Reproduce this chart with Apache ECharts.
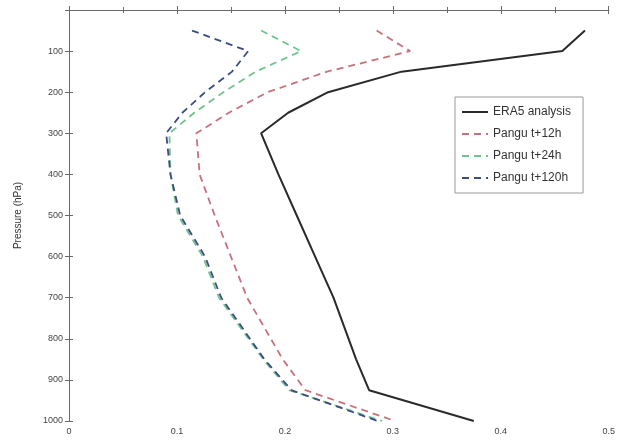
<!DOCTYPE html>
<html>
<head>
<meta charset="utf-8">
<script src="https://cdn.jsdelivr.net/npm/echarts@6/dist/echarts.min.js"></script>
<style>html,body{margin:0;padding:0;background:#fff;}#c{width:618px;height:446px;}</style>
</head>
<body>
<div id="c"></div>
<script>
// Pressure levels (hPa)
var levels = [50, 100, 150, 200, 250, 300, 400, 500, 600, 700, 850, 925, 1000];
// Values per level
var era5  = [0.478, 0.457, 0.308, 0.240, 0.203, 0.178, 0.194, 0.211, 0.228, 0.245, 0.266, 0.278, 0.375];
var t12   = [0.285, 0.316, 0.239, 0.184, 0.148, 0.118, 0.121, 0.135, 0.150, 0.165, 0.198, 0.219, 0.302];
var t24   = [0.178, 0.215, 0.173, 0.143, 0.116, 0.093, 0.094, 0.101, 0.124, 0.139, 0.180, 0.204, 0.290];
var t120  = [0.114, 0.166, 0.151, 0.126, 0.105, 0.090, 0.094, 0.103, 0.126, 0.141, 0.181, 0.206, 0.286];
var seriesNames = ['ERA5 analysis', 'Pangu t+12h', 'Pangu t+24h', 'Pangu t+120h'];
var xTicks = [0, 0.1, 0.2, 0.3, 0.4, 0.5];
var yTicks = [100, 200, 300, 400, 500, 600, 700, 800, 900, 1000];

function pairs(vals) { return vals.map(function (v, i) { return [v, levels[i]]; }); }

var FONT = 'Liberation Sans';
var axisCol = '#6a6a6a';
var chart = echarts.init(document.getElementById('c'));
var tickCommon = { show: true, inside: true, length: 4, lineStyle: { color: axisCol } };
chart.setOption({
  animation: false,
  backgroundColor: '#fff',
  textStyle: { fontFamily: FONT },
  grid: { left: 69, right: 4, top: 10, bottom: 25, show: false },
  legend: {
    orient: 'vertical', left: 455, top: 97,
    data: seriesNames,
    itemWidth: 26, itemHeight: 14, itemGap: 10,
    padding: [9, 12, 9, 6],
    borderColor: '#999', borderWidth: 1, backgroundColor: '#fff',
    itemStyle: { opacity: 0 },
    textStyle: { fontFamily: FONT, fontSize: 12, color: '#333' }
  },
  xAxis: [{
    type: 'value', min: 0, max: 0.5, interval: 0.1, position: 'bottom',
    axisLine: { show: true, lineStyle: { color: axisCol, width: 1 } },
    axisTick: tickCommon,
    minorTick: { show: true, splitNumber: 2, length: 3, lineStyle: { color: axisCol } },
    splitLine: { show: false },
    axisLabel: { fontSize: 9, color: '#444', margin: 6, fontFamily: FONT,
      formatter: function (v) { return xTicks.indexOf(Math.round(v * 10) / 10) >= 0 ? String(Math.round(v * 10) / 10) : ''; } }
  }, {
    type: 'value', min: 0, max: 0.5, interval: 0.1, position: 'top',
    axisLine: { show: true, lineStyle: { color: axisCol, width: 1 } },
    axisTick: tickCommon,
    minorTick: { show: true, splitNumber: 2, length: 3, lineStyle: { color: axisCol } },
    splitLine: { show: false }, axisLabel: { show: false }
  }],
  yAxis: [{
    type: 'value', min: 0, max: 1000, interval: 100, inverse: true, position: 'left',
    name: 'Pressure (hPa)', nameLocation: 'middle', nameGap: 46, nameRotate: 90,
    nameTextStyle: { fontSize: 10, color: '#333', fontFamily: FONT },
    axisLine: { show: true, lineStyle: { color: axisCol, width: 1 } },
    axisTick: tickCommon,
    splitLine: { show: false },
    axisLabel: { fontSize: 9, color: '#444', margin: 6, fontFamily: FONT,
      formatter: function (v) { return yTicks.indexOf(v) >= 0 ? String(v) : ''; } }
  }, {
    type: 'value', min: 0, max: 1000, interval: 100, inverse: true, position: 'right',
    axisLine: { show: true, lineStyle: { color: axisCol, width: 1 } },
    axisTick: tickCommon,
    splitLine: { show: false }, axisLabel: { show: false }
  }],
  series: [
    { name: seriesNames[0], type: 'line', data: pairs(era5), showSymbol: false, symbol: 'none',
      lineStyle: { color: '#2a2a2a', width: 2, type: 'solid' }, itemStyle: { color: '#2a2a2a' }, z: 5 },
    { name: seriesNames[1], type: 'line', data: pairs(t12), showSymbol: false, symbol: 'none',
      lineStyle: { color: '#c9707e', width: 1.8, type: [7, 5] }, itemStyle: { color: '#c9707e' } },
    { name: seriesNames[2], type: 'line', data: pairs(t24), showSymbol: false, symbol: 'none',
      lineStyle: { color: '#6fc48e', width: 1.8, type: [7, 5] }, itemStyle: { color: '#6fc48e' } },
    { name: seriesNames[3], type: 'line', data: pairs(t120), showSymbol: false, symbol: 'none',
      lineStyle: { color: '#3d4c80', width: 1.8, type: [7, 5] }, itemStyle: { color: '#3d4c80' } }
  ]
});
</script>
</body>
</html>
